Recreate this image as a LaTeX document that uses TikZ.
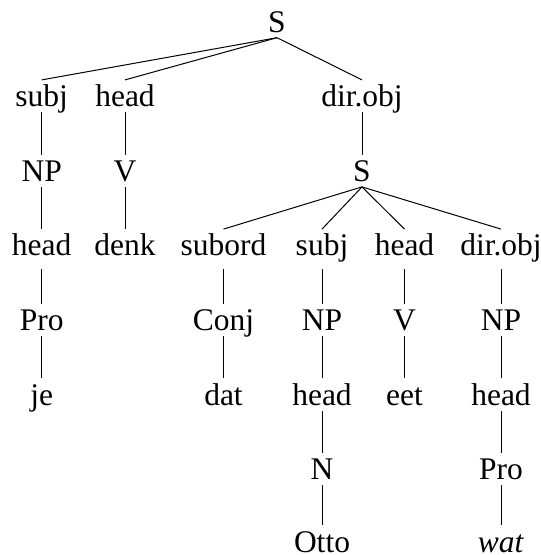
\documentclass[tikz,border=0pt]{standalone}
\usepackage{fontspec}
\setmainfont{Liberation Serif}
\begin{document}
\begin{tikzpicture}[x=1pt,y=-1pt,
  lbl/.style={font=\fontsize{31.5}{36}\selectfont, inner sep=0pt, anchor=base, text height=26.5pt, text depth=5.5pt},
  deep/.style={lbl, text depth=13pt},
  leaf/.style={lbl, text depth=0pt},
  edge/.style={line width=1pt}]
\useasboundingbox (0,0) rectangle (541,555);
% row 0
\node[lbl] (s) at (277,32) {S};
% row 1
\node[lbl] (subj) at (41.7,106.6) {subj};
\node[lbl] (h1) at (125,106.6) {head};
\node[lbl] (do1) at (362,106.6) {dir.obj};
% row 2
\node[lbl] (np1) at (41.7,181.2) {NP};
\node[lbl] (v1) at (125,181.2) {V};
\node[lbl] (s2) at (362,181.2) {S};
% row 3
\node[deep] (h2) at (41.7,255.8) {head};
\node[deep] (denk) at (125,255.8) {denk};
\node[deep] (sub) at (223.5,255.8) {subord};
\node[deep] (subj2) at (322,255.8) {subj};
\node[deep] (h3) at (404.5,255.8) {head};
\node[deep] (do2) at (501,255.8) {dir.obj};
% row 4
\node[lbl] (pro1) at (41.7,330.4) {Pro};
\node[lbl] (conj) at (223.5,330.4) {Conj};
\node[lbl] (np2) at (322,330.4) {NP};
\node[lbl] (v2) at (404.5,330.4) {V};
\node[lbl] (np3) at (501,330.4) {NP};
% row 5
\node[lbl] (je) at (41.7,405) {je};
\node[lbl] (dat) at (223.5,405) {dat};
\node[lbl] (h4) at (322,405) {head};
\node[lbl] (eet) at (404.5,405) {eet};
\node[lbl] (h5) at (501,405) {head};
% row 6
\node[lbl] (n) at (322,479.6) {N};
\node[lbl] (pro2) at (501,479.6) {Pro};
% row 7
\node[leaf] (otto) at (322,552) {Otto};
\node[leaf] (wat) at (501,552) {\textit{wat}};
% edges
\draw[edge] (s.south) -- (subj.north);
\draw[edge] (s.south) -- (h1.north);
\draw[edge] (s.south) -- (do1.north);
\draw[edge] (subj.south) -- (np1.north);
\draw[edge] (np1.south) -- (h2.north);
\draw[edge] (h2.south) -- (pro1.north);
\draw[edge] (pro1.south) -- (je.north);
\draw[edge] (h1.south) -- (v1.north);
\draw[edge] (v1.south) -- (denk.north);
\draw[edge] (do1.south) -- (s2.north);
\draw[edge] (s2.south) -- (sub.north);
\draw[edge] (s2.south) -- (subj2.north);
\draw[edge] (s2.south) -- (h3.north);
\draw[edge] (s2.south) -- (do2.north);
\draw[edge] (sub.south) -- (conj.north);
\draw[edge] (conj.south) -- (dat.north);
\draw[edge] (subj2.south) -- (np2.north);
\draw[edge] (np2.south) -- (h4.north);
\draw[edge] (h4.south) -- (n.north);
\draw[edge] (n.south) -- (otto.north);
\draw[edge] (h3.south) -- (v2.north);
\draw[edge] (v2.south) -- (eet.north);
\draw[edge] (do2.south) -- (np3.north);
\draw[edge] (np3.south) -- (h5.north);
\draw[edge] (h5.south) -- (pro2.north);
\draw[edge] (pro2.south) -- (wat.north);
\end{tikzpicture}
\end{document}
